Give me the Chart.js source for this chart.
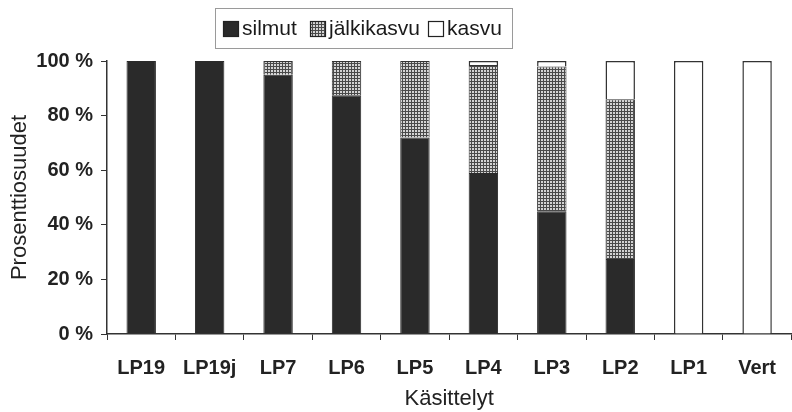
<!DOCTYPE html>
<html>
<head>
<meta charset="utf-8">
<script src="https://cdn.jsdelivr.net/npm/chart.js@4/dist/chart.umd.min.js"></script>
<style>
  html, body { margin: 0; padding: 0; background: #fff; }
  #wrap { width: 792px; height: 412px; position: relative; }
</style>
</head>
<body>
<div id="wrap"><canvas id="c" width="792" height="412"></canvas></div>
<script>
// Treatments on the x axis
const categories = ['LP19', 'LP19j', 'LP7', 'LP6', 'LP5', 'LP4', 'LP3', 'LP2', 'LP1', 'Vert'];
// Share (%) of each growth type per treatment
const silmut     = [100, 100, 95, 87.5, 72, 59, 45, 27.5, 0, 0];
const jalkikasvu = [0, 0, 5, 12.5, 28, 39.5, 53, 58.5, 0, 0];
const kasvu      = [0, 0, 0, 0, 0, 1.5, 2, 14, 100, 100];
const seriesNames = ['silmut', 'jälkikasvu', 'kasvu'];
const yTicks = [0, 20, 40, 60, 80, 100];

// Fine grid fill for the regrowth series
function gridPattern() {
  const p = document.createElement('canvas');
  p.width = 3; p.height = 3;
  const g = p.getContext('2d');
  g.fillStyle = '#d4d4d4';
  g.fillRect(0, 0, 3, 3);
  g.fillStyle = '#4a4a4a';
  g.fillRect(0, 0, 3, 1);
  g.fillRect(0, 0, 1, 3);
  return document.getElementById('c').getContext('2d').createPattern(p, 'repeat');
}
const hatch = gridPattern();
const fills = ['#2a2a2a', hatch, '#ffffff'];

// Boxed legend above the plot
const boxedLegend = {
  id: 'boxedLegend',
  afterDraw(chart) {
    const ctx = chart.ctx;
    ctx.save();
    ctx.strokeStyle = '#9a9a9a';
    ctx.lineWidth = 1;
    ctx.strokeRect(215.5, 8.5, 297, 40);
    ctx.font = '21px "Liberation Sans", Arial, sans-serif';
    ctx.textBaseline = 'middle';
    const items = [
      { x: 223, fill: fills[0] },
      { x: 310, fill: fills[1] },
      { x: 428, fill: fills[2] }
    ];
    items.forEach((it, i) => {
      ctx.fillStyle = it.fill;
      ctx.fillRect(it.x, 21, 16, 16);
      ctx.strokeStyle = '#222';
      ctx.lineWidth = 1.2;
      ctx.strokeRect(it.x + 0.5, 21.5, 15, 15);
      ctx.fillStyle = '#1a1a1a';
      ctx.fillText(seriesNames[i], it.x + 19, 29);
    });
    ctx.restore();
  }
};

new Chart(document.getElementById('c'), {
  type: 'bar',
  data: {
    labels: categories,
    datasets: [
      { label: seriesNames[0], data: silmut, backgroundColor: fills[0], borderColor: '#2a2a2a', borderWidth: 1 },
      { label: seriesNames[1], data: jalkikasvu, backgroundColor: fills[1], borderColor: '#333', borderWidth: 1 },
      { label: seriesNames[2], data: kasvu, backgroundColor: fills[2], borderColor: '#333', borderWidth: 1.5 }
    ]
  },
  options: {
    responsive: false,
    animation: false,
    layout: { padding: { top: 61, right: 0, left: 0, bottom: 0 } },
    datasets: { bar: { barPercentage: 0.43, categoryPercentage: 1 } },
    plugins: { legend: { display: false }, tooltip: { enabled: false } },
    scales: {
      x: {
        stacked: true,
        afterFit(s) { s.height = 78; },
        grid: { drawOnChartArea: false, drawTicks: true, tickLength: 6, color: '#333', offset: true },
        border: { display: true, color: '#333', width: 1.5 },
        ticks: {
          color: '#222',
          padding: 16,
          font: { family: '"Liberation Sans", Arial, sans-serif', size: 20, weight: 'bold' },
          maxRotation: 0
        },
        title: {
          display: true,
          text: 'Käsittelyt',
          color: '#222',
          padding: { top: 2, bottom: 0 },
          font: { family: '"Liberation Sans", Arial, sans-serif', size: 22 }
        }
      },
      y: {
        stacked: true,
        min: 0,
        max: 100,
        afterFit(s) { s.width = 107; },
        afterBuildTicks(s) { s.ticks = yTicks.map(v => ({ value: v })); },
        grid: { drawOnChartArea: false, drawTicks: true, tickLength: 6, color: '#333' },
        border: { display: true, color: '#333', width: 1.5 },
        ticks: {
          color: '#222',
          padding: 8,
          callback: v => v + ' %',
          font: { family: '"Liberation Sans", Arial, sans-serif', size: 20, weight: 'bold' }
        },
        title: {
          display: true,
          text: 'Prosenttiosuudet',
          color: '#222',
          padding: { top: 7, bottom: 0 },
          font: { family: '"Liberation Sans", Arial, sans-serif', size: 22 }
        }
      }
    }
  },
  plugins: [{
    id: 'whiteBg',
    beforeDraw(chart) {
      const c = chart.ctx;
      c.save();
      c.fillStyle = '#fff';
      c.fillRect(0, 0, chart.width, chart.height);
      c.restore();
    }
  }, boxedLegend]
});
</script>
</body>
</html>
